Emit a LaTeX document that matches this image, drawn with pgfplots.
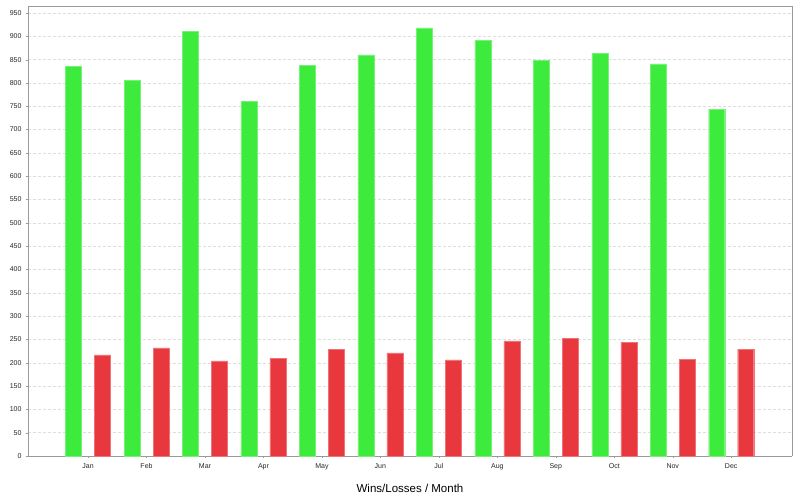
\documentclass[border=0pt]{standalone}
\usepackage{fontspec}
\setmainfont{Liberation Sans}
\usepackage{pgfplots}
\pgfplotsset{compat=1.18}
\definecolor{wins}{HTML}{3DEB3D}
\definecolor{losses}{HTML}{E8383D}
\definecolor{frame}{HTML}{999999}
\begin{document}
\begin{tikzpicture}
\useasboundingbox (-28pt,-44pt) rectangle (772pt,456pt);
\begin{axis}[
  at={(0,0)}, anchor=south west,
  scale only axis, width=764pt, height=450pt,
  ybar, bar width=16pt,
  xmin=-1.027, xmax=12.04, ymin=0, ymax=965,
  xtick=data,
  xticklabels={Jan,Feb,Mar,Apr,May,Jun,Jul,Aug,Sep,Oct,Nov,Dec},
  ytick={0,50,...,950},
  ymajorgrids, grid style={dash pattern=on 3pt off 2pt, color=black!13},
  axis line style={frame},
  tick style={frame},
  tick align=outside, major tick length=2pt,
  axis x line*=bottom, axis y line*=left,
  every outer x axis line/.append style={-},
  every outer y axis line/.append style={-},
  ticklabel style={font=\fontsize{7}{8}\selectfont, text=black!85},
  xticklabel style={yshift=-2pt},
  /pgf/number format/assume math mode=true,
  xlabel={Wins/Losses / Month},
  xlabel style={font=\fontsize{11.5}{13}\selectfont, yshift=-7pt},
  yticklabel style={xshift=-1pt},
  clip=false,
]
\draw[frame] (rel axis cs:0,1) -- (rel axis cs:1,1) -- (rel axis cs:1,0);
\addplot[fill=wins, draw=wins!70!white, bar shift=-14.5pt] coordinates {
(0,836) (1,806) (2,911) (3,761) (4,838) (5,860)
(6,918) (7,892) (8,849) (9,864) (10,841) (11,744)};
\addplot[fill=losses, draw=losses!70!white, bar shift=14.5pt] coordinates {
(0,217) (1,232) (2,204) (3,210) (4,229) (5,221)
(6,206) (7,247) (8,253) (9,244) (10,208) (11,229)};
\end{axis}
\end{tikzpicture}
\end{document}
